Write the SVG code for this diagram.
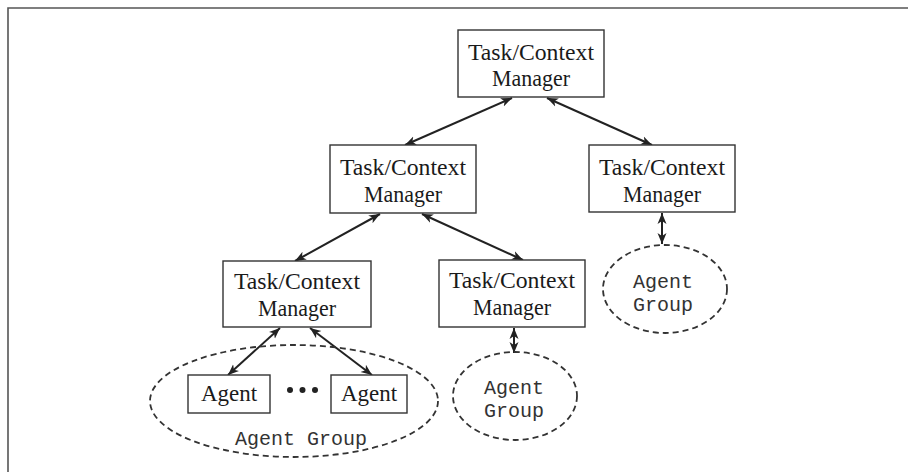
<svg xmlns="http://www.w3.org/2000/svg" width="908" height="472" viewBox="0 0 908 472">
<style>
.box{fill:#fff;stroke:#333;stroke-width:1.4}
.tcm{font-family:"Liberation Serif","Times New Roman",serif;font-size:23px;fill:#1a1a1a;text-anchor:middle}
.grp{font-family:"Liberation Mono","Courier New",monospace;font-size:20px;fill:#333;text-anchor:middle}
.ell{fill:none;stroke:#333;stroke-width:1.8;stroke-dasharray:6 4}
.arr{stroke:#222;stroke-width:2;fill:none;marker-start:url(#ah);marker-end:url(#ah)}
.frame{stroke:#555;stroke-width:1.6;fill:none}
</style>
<defs>
<marker id="ah" markerUnits="userSpaceOnUse" markerWidth="12" markerHeight="10" refX="11" refY="5" orient="auto-start-reverse">
<path d="M0,0.5 L11,5 L0,9.5 L3,5 z" fill="#222"/>
</marker>
</defs>
<rect width="908" height="472" fill="#fff"/>
<path class="frame" d="M8,472 L8,8 L908,8"/>
<g id="connectors">
<line class="arr" x1="512" y1="98" x2="405" y2="145"/>
<line class="arr" x1="547" y1="98" x2="652" y2="145"/>
<line class="arr" x1="380" y1="214" x2="295" y2="261"/>
<line class="arr" x1="422" y1="214" x2="523" y2="260"/>
<line class="arr" x1="662" y1="213" x2="662" y2="244"/>
<line class="arr" x1="514" y1="328" x2="514" y2="353"/>
<line class="arr" x1="280" y1="328" x2="228" y2="375"/>
<line class="arr" x1="310" y1="328" x2="372" y2="375"/>
</g>
<g id="tcm-top">
<rect class="box" x="458" y="30" width="146" height="67"/>
<text class="tcm" x="531" y="60" textLength="126" lengthAdjust="spacingAndGlyphs">Task/Context</text>
<text class="tcm" x="531" y="86" textLength="78" lengthAdjust="spacingAndGlyphs">Manager</text>
</g>
<g id="tcm-mid-left">
<rect class="box" x="330" y="145" width="146" height="68"/>
<text class="tcm" x="403" y="175" textLength="126" lengthAdjust="spacingAndGlyphs">Task/Context</text>
<text class="tcm" x="403" y="202" textLength="78" lengthAdjust="spacingAndGlyphs">Manager</text>
</g>
<g id="tcm-right">
<rect class="box" x="589" y="145" width="146" height="67"/>
<text class="tcm" x="662" y="175" textLength="126" lengthAdjust="spacingAndGlyphs">Task/Context</text>
<text class="tcm" x="662" y="202" textLength="78" lengthAdjust="spacingAndGlyphs">Manager</text>
</g>
<g id="tcm-bottom-left">
<rect class="box" x="223" y="261" width="148" height="66"/>
<text class="tcm" x="297" y="289" textLength="126" lengthAdjust="spacingAndGlyphs">Task/Context</text>
<text class="tcm" x="297" y="316" textLength="78" lengthAdjust="spacingAndGlyphs">Manager</text>
</g>
<g id="tcm-bottom-mid">
<rect class="box" x="439" y="260" width="146" height="67"/>
<text class="tcm" x="512" y="288" textLength="126" lengthAdjust="spacingAndGlyphs">Task/Context</text>
<text class="tcm" x="512" y="315" textLength="78" lengthAdjust="spacingAndGlyphs">Manager</text>
</g>
<g id="group-right">
<ellipse class="ell" cx="665" cy="289" rx="62" ry="44"/>
<text class="grp" x="663" y="288">Agent</text>
<text class="grp" x="663" y="311">Group</text>
</g>
<g id="group-mid">
<ellipse class="ell" cx="515" cy="396" rx="62" ry="44"/>
<text class="grp" x="514" y="394">Agent</text>
<text class="grp" x="514" y="417">Group</text>
</g>
<g id="group-left">
<ellipse class="ell" cx="294" cy="401" rx="144" ry="56"/>
<text class="grp" x="301" y="445">Agent Group</text>
</g>
<g id="agent-left">
<rect class="box" x="188" y="375" width="82" height="38"/>
<text class="tcm" x="229" y="401">Agent</text>
</g>
<g id="agent-right">
<rect class="box" x="331" y="375" width="76" height="38"/>
<text class="tcm" x="369" y="401">Agent</text>
</g>
<g id="dots" fill="#222">
<circle cx="290" cy="390" r="3"/>
<circle cx="302.5" cy="390" r="3"/>
<circle cx="315" cy="390" r="3"/>
</g>
</svg>
